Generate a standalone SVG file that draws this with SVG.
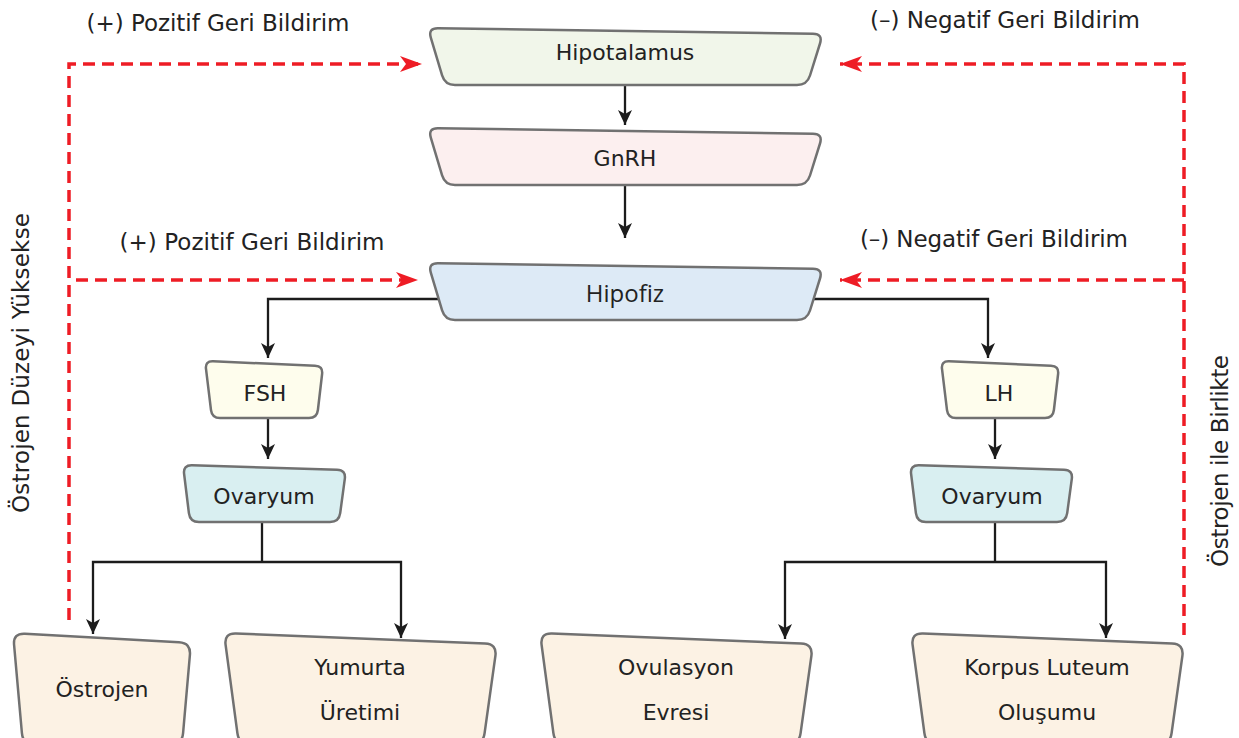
<svg xmlns="http://www.w3.org/2000/svg" width="1239" height="738" viewBox="0 0 1239 738">
<style>
  .node path { stroke: #717171; stroke-width: 2.5; stroke-linejoin: round; }
  .t { font-family: "DejaVu Sans", "Noto Sans", sans-serif; font-size: 22px; fill: #222; text-anchor: middle; }
  .t2 { font-family: "Open Sans", "Noto Sans", sans-serif; font-size: 24px; fill: #222; text-anchor: middle; }
  .lab { font-family: "DejaVu Sans", "Noto Sans", sans-serif; font-size: 23px; fill: #222; text-anchor: middle; }
  .hyp { fill: #F1F6EA; }
  .gnrh { fill: #FCEFEF; }
  .hipofiz { fill: #DDEAF6; }
  .horm { fill: #FEFDED; }
  .ovar { fill: #D9EFF1; }
  .out { fill: #FCF2E4; }
  .blk { fill: none; stroke: #1c1c1c; stroke-width: 2.3; }
  .red { fill: none; stroke: #EE1C25; stroke-width: 3.5; stroke-dasharray: 12 7; }
</style>
<defs>
  <marker id="ab" markerUnits="userSpaceOnUse" markerWidth="16" markerHeight="15" refX="15" refY="7" orient="auto">
    <path d="M0,0 L15,7 L0,14 L4,7 Z" fill="#1c1c1c"/>
  </marker>
  <marker id="ar" markerUnits="userSpaceOnUse" markerWidth="23" markerHeight="17" refX="22" refY="8" orient="auto">
    <path d="M0,0 L22,8 L0,16 L6,8 Z" fill="#EE1C25"/>
  </marker>
</defs>
<rect width="1239" height="738" fill="#ffffff"/>

<g id="connectors">
  <path class="blk" d="M625,86 V125" marker-end="url(#ab)"/>
  <path class="blk" d="M625,185 V238" marker-end="url(#ab)"/>
  <path class="blk" d="M441,299 H268 V358" marker-end="url(#ab)"/>
  <path class="blk" d="M812,299 H988 V358" marker-end="url(#ab)"/>
  <path class="blk" d="M268,418 V459" marker-end="url(#ab)"/>
  <path class="blk" d="M995,418 V459" marker-end="url(#ab)"/>
  <path class="blk" d="M262,522 V562"/>
  <path class="blk" d="M262,562 H93 V634" marker-end="url(#ab)"/>
  <path class="blk" d="M262,562 H401 V638" marker-end="url(#ab)"/>
  <path class="blk" d="M995,522 V562"/>
  <path class="blk" d="M995,562 H785 V639" marker-end="url(#ab)"/>
  <path class="blk" d="M995,562 H1106 V638" marker-end="url(#ab)"/>
  <path class="red" d="M69,620 V64 H422" marker-end="url(#ar)"/>
  <path class="red" d="M76,280 H418" marker-end="url(#ar)"/>
  <path class="red" d="M1184,635 V64 H840" marker-end="url(#ar)"/>
  <path class="red" d="M1184,280 H840" marker-end="url(#ar)"/>
</g>

<g id="labels">
  <text class="lab" x="218" y="31" textLength="263">(+) Pozitif Geri Bildirim</text>
  <text class="lab" x="1005" y="28" textLength="270">(–) Negatif Geri Bildirim</text>
  <text class="lab" x="252" y="250" textLength="265">(+) Pozitif Geri Bildirim</text>
  <text class="lab" x="994" y="247" textLength="268">(–) Negatif Geri Bildirim</text>
  <text class="lab" transform="translate(29,363) rotate(-90)" x="0" y="0" textLength="300">Östrojen Düzeyi Yüksekse</text>
  <text class="lab" transform="translate(1228,461) rotate(-90)" x="0" y="0" textLength="212">Östrojen ile Birlikte</text>
</g>

<g id="hipotalamus" class="node">
  <path class="hyp" transform="translate(428,28)" d="M10,0.15 L385,5.85 Q395,6 392,15.5 L382,47.5 Q379,57 369,57 L27,57 Q17,57 14.1,47.4 L2.8,9.6 Q0,0 10,0.15 Z"/>
  <text class="t" x="625" y="60">Hipotalamus</text>
</g>
<g id="gnrh" class="node">
  <path class="gnrh" transform="translate(428,128)" d="M10,0.15 L385,5.85 Q395,6 392,15.5 L382,47.5 Q379,57 369,57 L27,57 Q17,57 14.1,47.4 L2.8,9.6 Q0,0 10,0.15 Z"/>
  <text class="t" x="625" y="166">GnRH</text>
</g>
<g id="hipofiz" class="node">
  <path class="hipofiz" transform="translate(428,263)" d="M10,0.15 L385,5.85 Q395,6 392,15.5 L382,47.5 Q379,57 369,57 L27,57 Q17,57 14.1,47.4 L2.8,9.6 Q0,0 10,0.15 Z"/>
  <text class="t2" x="625" y="302">Hipofiz</text>
</g>
<g id="fsh" class="node">
  <path class="horm" transform="translate(205,361)" d="M8,0.34 L110,4.66 Q118,5 117.1,13 L112.9,49 Q112,57 104,57 L15,57 Q7,57 6,49.1 L1,7.9 Q0,0 8,0.34 Z"/>
  <text class="t" x="265" y="401">FSH</text>
</g>
<g id="lh" class="node">
  <path class="horm" transform="translate(941,361)" d="M8,0.34 L110,4.66 Q118,5 117.1,13 L112.9,49 Q112,57 104,57 L15,57 Q7,57 6,49.1 L1,7.9 Q0,0 8,0.34 Z"/>
  <text class="t" x="999" y="401">LH</text>
</g>
<g id="ovaryum-left" class="node">
  <path class="ovar" transform="translate(183,465)" d="M9,0.28 L154,4.72 Q163,5 161.8,13.9 L157.2,48.1 Q156,57 147,57 L16,57 Q7,57 5.9,48.1 L1.1,8.9 Q0,0 9,0.28 Z"/>
  <text class="t" x="264" y="504">Ovaryum</text>
</g>
<g id="ovaryum-right" class="node">
  <path class="ovar" transform="translate(910,465)" d="M9,0.28 L154,4.72 Q163,5 161.8,13.9 L157.2,48.1 Q156,57 147,57 L16,57 Q7,57 5.9,48.1 L1.1,8.9 Q0,0 9,0.28 Z"/>
  <text class="t" x="992" y="504">Ovaryum</text>
</g>
<g id="ostrojen" class="node">
  <path class="out" transform="translate(13,633)" d="M12,0.67 L166,9.33 Q178,10 176.9,22 L170.1,100 Q169,112 157,112 L22,112 Q10,112 8.9,100 L1.1,12 Q0,0 12,0.67 Z"/>
  <text class="t" x="102" y="697">Östrojen</text>
</g>
<g id="yumurta" class="node">
  <path class="out" transform="translate(224,633)" d="M12,0.48 L261,10.52 Q273,11 271.4,22.9 L260.6,100.1 Q259,112 247,112 L27,112 Q15,112 13.4,100.1 L1.6,11.9 Q0,0 12,0.48 Z"/>
  <text class="t" x="360" y="675">Yumurta</text>
  <text class="t" x="360" y="720">Üretimi</text>
</g>
<g id="ovulasyon" class="node">
  <path class="out" transform="translate(540,633)" d="M12,0.48 L261,10.52 Q273,11 271.4,22.9 L260.6,100.1 Q259,112 247,112 L27,112 Q15,112 13.4,100.1 L1.6,11.9 Q0,0 12,0.48 Z"/>
  <text class="t" x="676" y="675">Ovulasyon</text>
  <text class="t" x="676" y="720">Evresi</text>
</g>
<g id="korpus" class="node">
  <path class="out" transform="translate(911,633)" d="M12,0.48 L261,10.52 Q273,11 271.4,22.9 L260.6,100.1 Q259,112 247,112 L27,112 Q15,112 13.4,100.1 L1.6,11.9 Q0,0 12,0.48 Z"/>
  <text class="t" x="1047" y="675">Korpus Luteum</text>
  <text class="t" x="1047" y="720">Oluşumu</text>
</g>
</svg>
